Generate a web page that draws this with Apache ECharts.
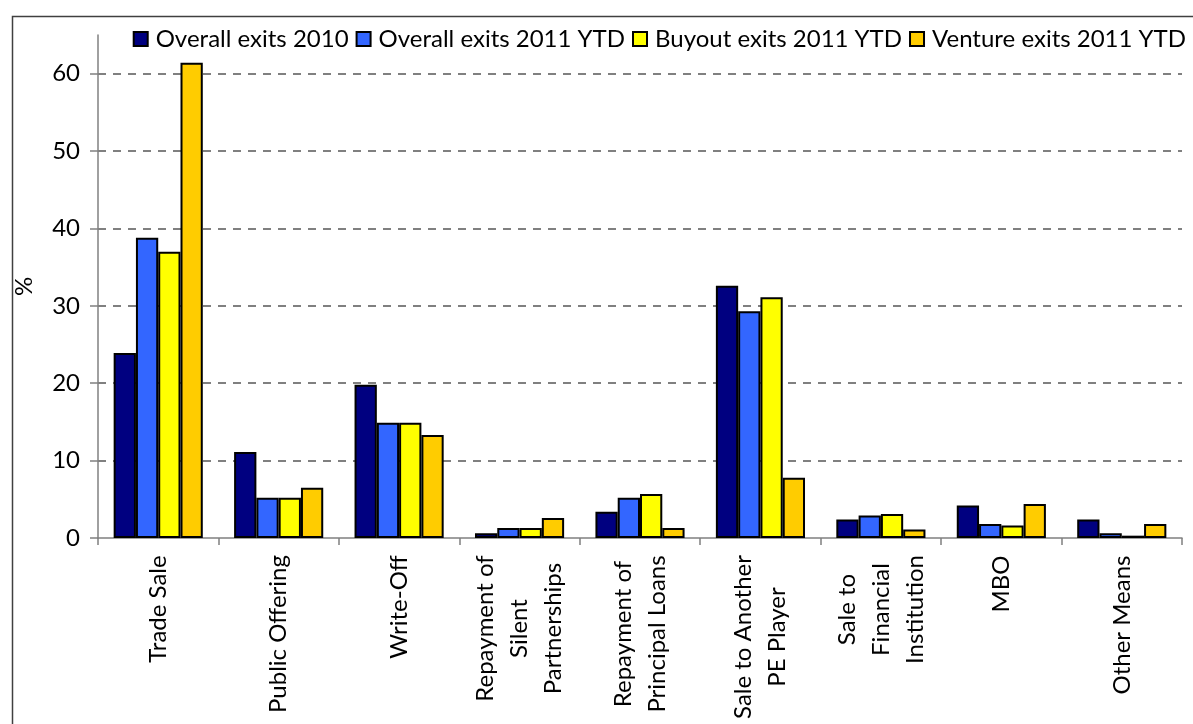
<!DOCTYPE html>
<html lang="en">
<head>
    <meta charset="UTF-8">
    <title>Exit channels</title>
    <script src="https://cdn.jsdelivr.net/npm/echarts@6/dist/echarts.min.js"></script>
    <style>
        html, body { margin: 0; padding: 0; background: #fff; }
        #chart { width: 1193px; height: 724px; }
    </style>
</head>
<body>
<div id="chart"></div>
<script>
    var categories = ['Trade Sale', 'Public Offering', 'Write-Off', 'Repayment of\nSilent\nPartnerships',
        'Repayment of\nPrincipal Loans', 'Sale to Another\nPE Player', 'Sale to\nFinancial\nInstitution', 'MBO', 'Other Means'];
    var seriesNames = ['Overall exits 2010', 'Overall exits 2011 YTD', 'Buyout exits 2011 YTD', 'Venture exits 2011 YTD'];
    var overall2010 = [23.9, 11.1, 19.8, 0.6, 3.4, 32.6, 2.4, 4.2, 2.4];
    var overall2011 = [38.8, 5.2, 14.9, 1.3, 5.2, 29.3, 2.9, 1.8, 0.6];
    var buyout2011 = [37.0, 5.2, 14.9, 1.3, 5.7, 31.1, 3.1, 1.6, 0.3];
    var venture2011 = [61.4, 6.5, 13.3, 2.6, 1.3, 7.8, 1.1, 4.4, 1.8];
    var yTicks = [0, 10, 20, 30, 40, 50, 60];

    var colors = ['#000080', '#3366ff', '#ffff00', '#ffcc00'];
    var font = 'Lato';
    var fs = 24;

    // each multi-line label: lines centred inside a block that hangs from the axis
    var ctx = document.createElement('canvas').getContext('2d');
    ctx.font = fs + 'px ' + font;
    var rich = {};
    categories.forEach(function (c, i) {
        var w = 0;
        c.split('\n').forEach(function (l) { w = Math.max(w, ctx.measureText(l).width); });
        rich['c' + i] = { width: Math.ceil(w) + 2, align: 'center', fontSize: fs, fontFamily: font, color: '#000', lineHeight: 34 };
    });

    var myChart = echarts.init(document.getElementById('chart'));
    var allData = [overall2010, overall2011, buyout2011, venture2011];

    myChart.setOption({
        animation: false,
        graphic: [{
            type: 'rect', left: 10, top: 14, silent: true,
            shape: { width: 1400, height: 900 },
            style: { fill: 'none', stroke: '#404040', lineWidth: 1.5 }
        }],
        legend: {
            top: 22, right: 2,
            icon: 'rect',
            itemWidth: 14, itemHeight: 14, itemGap: 7,
            textStyle: { fontFamily: font, fontSize: fs, color: '#000', padding: [0, 0, 0, 3] },
            data: seriesNames
        },
        grid: { left: 98, right: 11, top: 35, bottom: 186 },
        xAxis: {
            type: 'category',
            data: categories,
            axisLine: { lineStyle: { color: '#808080', width: 1.5 } },
            axisTick: { show: true, length: 7, lineStyle: { color: '#808080', width: 1.5 } },
            axisLabel: {
                interval: 0, rotate: 90, margin: 16,
                fontFamily: font, fontSize: fs, color: '#000',
                formatter: function (v, idx) {
                    return v.split('\n').map(function (l) { return '{c' + idx + '|' + l + '}'; }).join('\n');
                },
                rich: rich
            }
        },
        yAxis: {
            type: 'value',
            min: 0, max: 65, interval: 10,
            name: '%', nameLocation: 'middle', nameRotate: 90, nameGap: 62,
            nameTextStyle: { fontFamily: font, fontSize: fs, color: '#000' },
            axisLine: { show: true, lineStyle: { color: '#808080', width: 1.5 } },
            axisTick: { show: true, length: 8, customValues: yTicks, lineStyle: { color: '#808080', width: 1.5 } },
            axisLabel: { margin: 18, fontFamily: font, fontSize: fs, color: '#000', customValues: yTicks },
            splitLine: { show: true, showMinLine: false, lineStyle: { color: '#808080', width: 2, type: [8, 7] } }
        },
        series: seriesNames.map(function (name, i) {
            return {
                name: name,
                type: 'bar',
                data: allData[i],
                barGap: '0%',
                barCategoryGap: '26%',
                itemStyle: { color: colors[i], borderColor: '#000', borderWidth: 2 }
            };
        })
    });
</script>
</body>
</html>
